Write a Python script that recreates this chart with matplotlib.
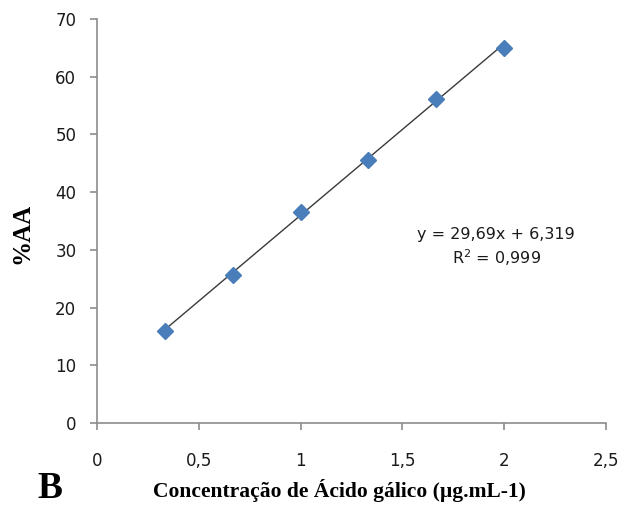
import numpy as np
import matplotlib
matplotlib.use("Agg")
import matplotlib.pyplot as plt

# data
conc = [0.333, 0.667, 1.0, 1.333, 1.667, 2.0]
aa_pct = [15.9, 25.6, 36.6, 45.6, 56.1, 65.0]
slope, intercept = 29.69, 6.319
eq_text = "y = 29,69x + 6,319\nR$^2$ = 0,999"
x_ticks = [0, 0.5, 1, 1.5, 2, 2.5]
x_tick_labels = ["0", "0,5", "1", "1,5", "2", "2,5"]
y_ticks = [0, 10, 20, 30, 40, 50, 60, 70]

fig = plt.figure(figsize=(6.19, 5.08), dpi=100)
ax = fig.add_axes([0.157, 0.167, 0.822, 0.796])

xs = np.array([min(conc), max(conc)])
ax.plot(xs, slope * xs + intercept, color="#3a3a3a", linewidth=1.0, zorder=2)
ax.plot(conc, aa_pct, linestyle="none", marker="D", markersize=8,
        color="#4a7ebb", markeredgecolor="#4a7ebb", zorder=3)

ax.set_xlim(0, 2.5)
ax.set_ylim(0, 70)
ax.set_xticks(x_ticks)
ax.set_xticklabels(x_tick_labels)
ax.set_yticks(y_ticks)

for side in ["top", "right"]:
    ax.spines[side].set_visible(False)
for side in ["left", "bottom"]:
    ax.spines[side].set_color("#8c8c8c")
    ax.spines[side].set_linewidth(1.2)
ax.tick_params(axis="both", direction="out", length=5, width=1.2, color="#8c8c8c",
               labelsize=12, labelcolor="#1a1a1a")
ax.tick_params(axis="x", pad=16)
ax.tick_params(axis="y", pad=10)

ax.text(1.96, 30.4, eq_text, ha="center", va="center", fontsize=11.5,
        color="#1a1a1a", linespacing=1.35, multialignment="center")

fig.text(0.548, 0.035, "Concentração de Ácido gálico (µg.mL-1)", ha="center", va="center",
         fontsize=15.5, fontweight="bold", family="Liberation Serif")
fig.text(0.036, 0.54, "%AA", ha="center", va="center", rotation=90,
         fontsize=18, fontweight="bold", family="Liberation Serif")
fig.text(0.081, 0.004, "B", ha="center", va="bottom",
         fontsize=27, fontweight="bold", family="Liberation Serif")

fig.savefig("out.png", dpi=100)
